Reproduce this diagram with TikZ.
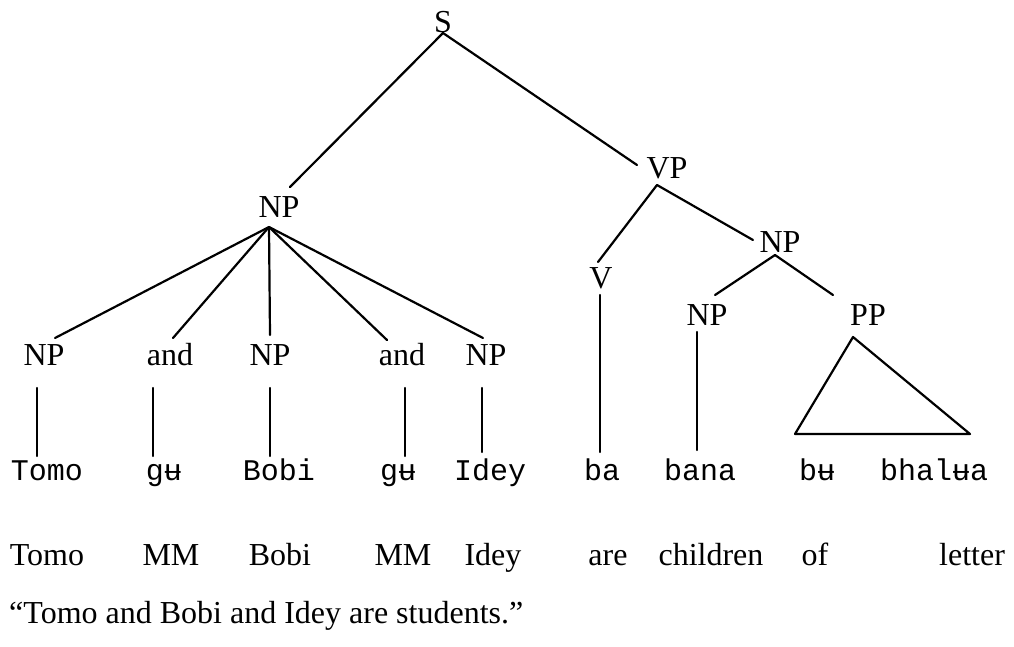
\documentclass[tikz,border=0pt]{standalone}
\usepackage{fontspec}
\setmainfont{Liberation Serif}
\newfontfamily\monof{Liberation Mono}
\begin{document}
\begin{tikzpicture}[x=1pt,y=-1pt,
  lab/.style={font=\fontsize{32}{36}\selectfont, inner sep=0pt, anchor=base},
  mono/.style={font=\monof\fontsize{30}{34}\selectfont, inner sep=0pt, anchor=base},
  edge/.style={line width=2.2pt, line cap=round, line join=round}]
\useasboundingbox (0,0) rectangle (1014,646);
% category labels
\node[lab] (S) at (443,32) {S};
\node[lab] (NPa) at (279,217) {NP};
\node[lab] (VP) at (667,178) {VP};
\node[lab] (np1) at (44,365) {NP};
\node[lab] (and1) at (170,365) {and};
\node[lab] (np2) at (270,365) {NP};
\node[lab] (and2) at (402,365) {and};
\node[lab] (np3) at (486,365) {NP};
\node[lab] (V) at (601,288) {V};
\node[lab] (NPb) at (780,252) {NP};
\node[lab] (NPc) at (707,325) {NP};
\node[lab] (PP) at (868,325) {PP};
% words
\node[mono] (w1) at (47,480) {Tomo};
\node[mono] (w2) at (164,480) {gʉ};
\node[mono] (w3) at (279,480) {Bobi};
\node[mono] (w4) at (398,480) {gʉ};
\node[mono] (w5) at (490,480) {Idey};
\node[mono] (w6) at (602,480) {ba};
\node[mono] (w7) at (700,480) {bana};
\node[mono] (w8) at (817,480) {bʉ};
\node[mono] (w9) at (934,480) {bhalʉa};
% gloss
\node[lab] (g1) at (47,565) {Tomo};
\node[lab] (g2) at (171,565) {MM};
\node[lab] (g3) at (280,565) {Bobi};
\node[lab] (g4) at (403,565) {MM};
\node[lab] (g5) at (493,565) {Idey};
\node[lab] (g6) at (608,565) {are};
\node[lab] (g7) at (711,565) {children};
\node[lab] (g8) at (815,565) {of};
\node[lab] (g9) at (972,565) {letter};
\node[lab, anchor=base west] (tr) at (9,623) {“Tomo and Bobi and Idey are students.”};
% connector end points
\coordinate (Sb) at (443,33);
\coordinate (NPat) at (290,187);
\coordinate (VPt) at (637,165);
\coordinate (NPab) at (269,227);
\coordinate (np1t) at (55,338);
\coordinate (and1t) at (173,338);
\coordinate (np2t) at (270,335);
\coordinate (and2t) at (387,340);
\coordinate (np3t) at (483,338);
\coordinate (np1b) at (37,388);
\coordinate (and1b) at (153,388);
\coordinate (np2b) at (270,388);
\coordinate (and2b) at (405,388);
\coordinate (np3b) at (482,388);
\coordinate (w1t) at (37,456);
\coordinate (w2t) at (153,456);
\coordinate (w3t) at (270,456);
\coordinate (w4t) at (405,456);
\coordinate (w5t) at (482,452);
\coordinate (VPb) at (657,185);
\coordinate (Vt) at (598,262);
\coordinate (NPbt) at (753,240);
\coordinate (Vb) at (600,295);
\coordinate (w6t) at (600,452);
\coordinate (NPbb) at (775,255);
\coordinate (NPct) at (715,295);
\coordinate (PPt) at (833,295);
\coordinate (NPcb) at (697,332);
\coordinate (w7t) at (697,450);
\coordinate (triA) at (853,337);
\coordinate (triL) at (795,434);
\coordinate (triR) at (970,434);
% connectors
\draw[edge] (Sb) -- (NPat);
\draw[edge] (Sb) -- (VPt);
\foreach \t in {np1t,and1t,np2t,and2t,np3t} \draw[edge] (NPab) -- (\t);
\draw[edge] (np1b) -- (w1t);
\draw[edge] (and1b) -- (w2t);
\draw[edge] (np2b) -- (w3t);
\draw[edge] (and2b) -- (w4t);
\draw[edge] (np3b) -- (w5t);
\draw[edge] (VPb) -- (Vt);
\draw[edge] (VPb) -- (NPbt);
\draw[edge] (Vb) -- (w6t);
\draw[edge] (NPbb) -- (NPct);
\draw[edge] (NPbb) -- (PPt);
\draw[edge] (NPcb) -- (w7t);
\draw[edge] (triA) -- (triL) -- (triR) -- cycle;
\end{tikzpicture}
\end{document}
